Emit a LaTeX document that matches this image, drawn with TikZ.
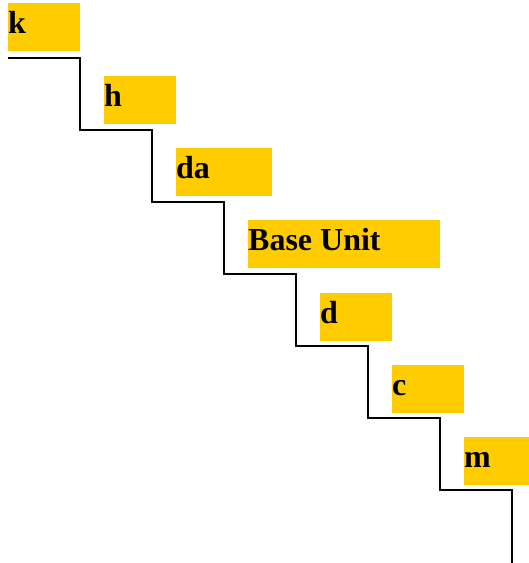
\documentclass[tikz,border=0pt]{standalone}
\usepackage{fontspec}
\setmainfont{Liberation Serif}
\definecolor{boxyellow}{HTML}{FFCC00}
\begin{document}
\begin{tikzpicture}[x=1pt,y=-1pt,
  ybox/.style={fill=boxyellow, draw=none, inner sep=0pt, anchor=north west, minimum height=47.5pt},
  ylabel/.style={anchor=base west, inner sep=0pt, font=\bfseries\fontsize{32}{32}\selectfont}]
\useasboundingbox (0,0) rectangle (529,563);
\node[ybox, minimum width=72pt] (k) at (8,3) {};
\node[ybox, minimum width=72pt] (h) at (104,76) {};
\node[ybox, minimum width=96pt] (da) at (176,148) {};
\node[ybox, minimum width=192pt] (base) at (248,220) {};
\node[ybox, minimum width=72pt] (d) at (320,293) {};
\node[ybox, minimum width=72pt] (c) at (392,365) {};
\node[ybox, minimum width=65pt] (m) at (464,437) {};
\foreach \n/\t in {k/k, h/h, da/da, base/Base Unit, d/d, c/c, m/m}
  \node[ylabel] (\n-t) at ([yshift=-30pt]\n.north west) {\t};
\draw[line width=1.6pt, line join=miter]
  (8,58) -- (80,58) -- (80,130) -- (152,130) -- (152,202) -- (224,202)
  -- (224,274) -- (296,274) -- (296,346) -- (368,346) -- (368,418)
  -- (440,418) -- (440,490) -- (512,490) -- (512,563);
\end{tikzpicture}
\end{document}
